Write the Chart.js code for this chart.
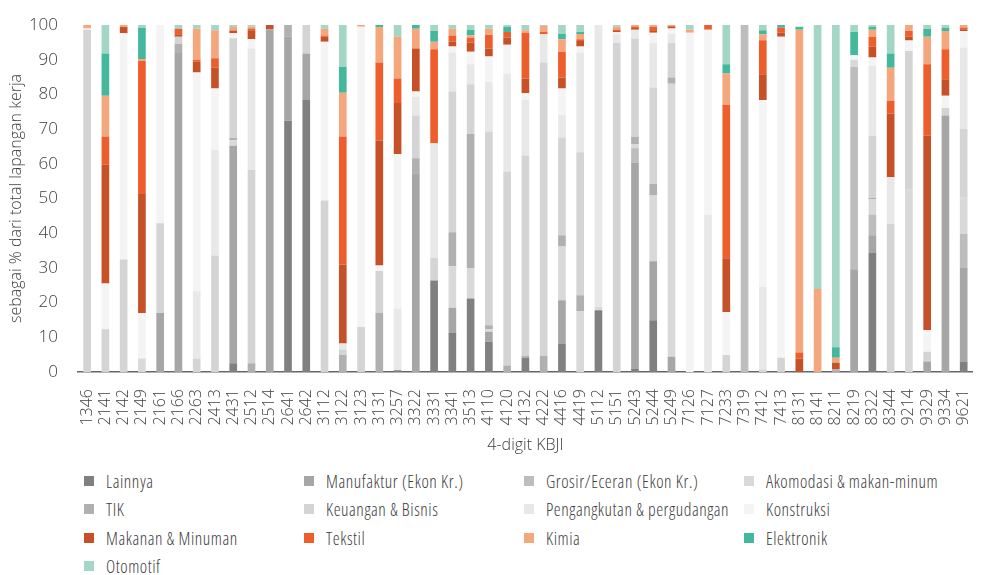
<!DOCTYPE html>
<html>
<head>
<meta charset="utf-8">
<script src="https://cdn.jsdelivr.net/npm/chart.js@4.4.1/dist/chart.umd.min.js"></script>
<style>
  html, body { margin: 0; padding: 0; background: #fff; overflow: hidden; }
  #wrap { position: relative; width: 1000px; height: 458px; }
  #legend {
    position: absolute; left: 84px; top: 467px;
    display: grid; grid-template-columns: repeat(4, 220px);
  }
  .item {
    display: flex; align-items: center; height: 28.3px;
    font-family: 'Open Sans', sans-serif; font-weight: 300; font-size: 17.5px;
    font-stretch: condensed; letter-spacing: 0.55px; color: #404040; white-space: nowrap;
  }
  .box { width: 10px; height: 10px; margin-right: 12px; flex: none; }
</style>
</head>
<body>
<div id="wrap"><canvas id="barChart" width="1000" height="458"></canvas></div>
<div id="legend"></div>
<script>
// 4-digit KBJI codes
var kbji = ['1346','2141','2142','2149','2161','2166','2263','2413','2431','2512',
            '2514','2641','2642','3112','3122','3123','3131','3257','3322','3331',
            '3341','3513','4110','4120','4132','4222','4416','4419','5112','5151',
            '5243','5244','5249','7126','7127','7233','7319','7412','7413','8131',
            '8141','8211','8219','8322','8344','9214','9329','9334','9621'];

// share of jobs per sector (%), one array per sector, same order as kbji
var lainnya      = [0,0,0,0,0,0,0,0,2.5,0, 0,72.4,78.4,0,0,0,0,0.5,0,26.4, 11.4,21.2,8.7,0,4.1,0,8.2,0,17.8,0, 1,14.9,0,0,0,0,0,0,0,0, 0,0,0,34.3,0,0,0,0,3];
var manufaktur   = [0,0,0,0,17,91.9,0,0,62.7,0, 98.8,24.2,13.4,0,0,0,0,0,57.3,0, 7.1,0,2.9,0,0,0,12.5,0,0,0, 59.4,17,4.4,0,0,0,0,0,0,0, 0,0,29.6,5.1,0,0,3,73.9,27];
var grosir       = [0,0,0,0,0,0,0,0,0,0, 0,0,0,0,0,0,0,0,0,0, 0,0,0,0,0,0,0,0,0,0, 4.1,0,0,0,0,0,100,0,0,0, 0,0,58.3,6,0,0,0,0,9.8];
var akomodasi    = [0,0,0,3.9,0,0,0,0,1.6,0, 0,0,0,0,0,0,0,0,0,0, 12,8.6,0.7,0,0,0,15.5,17.6,1,0, 1.2,19,78.7,0,0,0,0,0.8,0,0, 0,0,2.1,4.3,0,52.5,0,0,10.4];
var tik          = [0,0,0,0,0,2.7,0,0,0.6,2.5, 0,3.4,0,0,4.9,0,17,0,4.3,0, 9.8,38.8,1.2,1.9,0.6,4.7,3.2,4.5,0,0, 2.1,3.3,1.8,0,0,0,0,0,0,0, 0,0.8,0,0.5,0,0,0,0,0];
var keuangan     = [98.6,12.3,32.4,0,25.9,2,3.9,33.6,28.8,55.8, 0,0,8.2,49.4,1.6,13,12.1,0,12.3,6.5, 40.5,14.3,55.8,55.9,57.7,84.5,28.2,41.2,0,94.9, 28.3,27.8,10,0,0,4.9,0,0,4.1,0, 0,0,0,17.9,42.7,40,2.8,2.2,19.8];
var pengangkutan = [0,0,0,0,0,0,19.4,30.4,0,34.9, 0,0,0,0,1.7,0,0,17.8,5.4,33, 11.2,5.8,14.3,28.2,16,8.1,6.5,28.7,81.2,2.4, 2.5,12.9,2.6,0,45.3,0,0,23.7,0,0, 0,0,0,20.1,13.4,0,0,0,23.5];
var konstruksi   = [0.4,13.2,65.2,13.1,57.1,0,63,17.7,1.4,2.8, 0,0,0,45.8,0,86.5,1.6,44.5,1.5,0, 1.8,3.6,7.3,8.3,1.9,0,7.6,1.8,0,0.6, 0,2.9,1.5,97.8,53.3,12.4,0,53.9,92.5,0, 0,0,1.3,2.4,0,3,6.3,3.5,4.8];
var makanan      = [0,34.2,1.8,34.3,0,0.7,3.1,6,0.8,2.5, 1.2,0,0,1.4,22.8,0,36,14.7,12.4,0, 1.4,2.6,2.3,2.1,4.3,0,3.2,1.6,0,0.4, 0.5,0.5,0.5,0,0,15.5,0,7.4,1.2,3.9, 0,1.9,0,3.1,18.4,1.1,56,4.8,0.5];
var tekstil      = [0,8.2,0,38.4,0,1.6,0.6,2.7,0,0.5, 0,0,0,0.4,36.9,0,22.5,7.1,0,27.1, 1.8,1.4,3.9,1.6,13.2,0.7,7.4,0.5,0,0.4, 0.5,1.2,0.3,0,1.4,44.2,0,9.8,1.5,1.7, 0,0,0,2.9,3.7,1.7,20.6,8.6,0.5];
var kimia        = [1,11.7,0.6,0.5,0,0,9,8.1,1,0.5, 0,0,0,1.9,12.6,0.5,10.2,12,5.7,2.2, 2,0.7,1.9,0,0.7,1.7,3.6,1.5,0,0.8, 0.4,0.5,0.2,0.8,0,9,0,1.7,0,93, 23.9,1.4,0,2,9.5,1.7,7.9,5.3,0.7];
var elektronik   = [0,12.2,0,9,0,0,0,0,0,0, 0,0,0,0,7.4,0,0.6,0,1.1,3.1, 0,1.6,0,1.4,0,0,1.6,0.6,0,0, 0,0,0,0,0,2.7,0,1.2,0.7,0.9, 0,3,6.7,0.8,4.1,0,2.3,0.9,0];
var otomotif     = [0,8.2,0,0.8,0,1.1,1,1.5,0.6,0.5, 0,0,0,1.1,12.1,0,0,3.4,0,1.7, 1,1.4,1,0.6,1.5,0.3,2.5,2,0,0.5, 0,0,0,1.4,0,11.3,0,1.5,0,0, 76.1,92.9,2,0.6,8.2,0,1.1,0.8,0];

var yTicks = [0,10,20,30,40,50,60,70,80,90,100];

// series names in stacking/legend order, with their colours
var seriesNames = ['Lainnya','Manufaktur (Ekon Kr.)','Grosir/Eceran (Ekon Kr.)','Akomodasi & makan-minum',
                   'TIK','Keuangan & Bisnis','Pengangkutan & pergudangan','Konstruksi',
                   'Makanan & Minuman','Tekstil','Kimia','Elektronik','Otomotif'];
var seriesData = [lainnya, manufaktur, grosir, akomodasi, tik, keuangan, pengangkutan, konstruksi,
                  makanan, tekstil, kimia, elektronik, otomotif];
var seriesColors = ['#808080','#a6a6a6','#bdbdbd','#d9d9d9','#b0b0b0','#d4d4d4','#e8e8e8','#f4f4f4',
                    '#c65127','#ee5e2c','#f4a67c','#44b89c','#a4d6c5'];

var textColor = '#404040';
var fontFamily = "'Open Sans', sans-serif";

var datasets = seriesNames.map(function(name, i) {
  return {
    label: name,
    data: seriesData[i],
    backgroundColor: seriesColors[i],
    borderWidth: 0,
    barPercentage: 0.42,
    categoryPercentage: 1
  };
});

var ctx = document.getElementById('barChart').getContext('2d');
var chartInstance = new Chart(ctx, {
  type: 'bar',
  data: { labels: kbji, datasets: datasets },
  options: {
    responsive: false,
    animation: false,
    layout: { padding: { top: 25, right: 11, left: 0, bottom: 0 } },
    plugins: { legend: { display: false }, tooltip: { enabled: false } },
    scales: {
      x: {
        stacked: true,
        grid: { display: false, drawTicks: false },
        border: { display: true, color: '#666666', width: 1.5 },
        ticks: {
          autoSkip: false, minRotation: 90, maxRotation: 90, padding: 17,
          color: textColor,
          font: { family: fontFamily, size: 16, weight: 300, style: 'condensed' }
        },
        title: {
          display: true, text: '4-digit KBJI', color: textColor,
          padding: { top: 15, bottom: 3 },
          font: { family: fontFamily, size: 16, weight: 300, style: 'condensed' }
        },
        afterFit: function(scale) { scale.height = 86; }
      },
      y: {
        stacked: true,
        min: 0, max: 100,
        grid: { display: false, drawTicks: false },
        border: { display: false },
        afterBuildTicks: function(scale) {
          scale.ticks = yTicks.map(function(v) { return { value: v }; });
        },
        ticks: {
          padding: 20, color: textColor,
          font: { family: fontFamily, size: 17, weight: 300, style: 'semi-condensed' }
        },
        title: {
          display: true, text: 'sebagai % dari total lapangan kerja', color: textColor,
          padding: { top: 7, bottom: 0 },
          font: { family: fontFamily, size: 16, weight: 300, style: 'semi-condensed' }
        },
        afterFit: function(scale) {
          scale.width = 78;
          scale.paddingTop = 0;
          scale.paddingBottom = 0;
        }
      }
    }
  }
});

// legend in 4 fixed columns, built from the series lists
var legendEl = document.getElementById('legend');
seriesNames.forEach(function(name, i) {
  var item = document.createElement('div');
  item.className = 'item';
  var box = document.createElement('span');
  box.className = 'box';
  box.style.background = seriesColors[i];
  var label = document.createElement('span');
  label.textContent = name;
  item.appendChild(box);
  item.appendChild(label);
  legendEl.appendChild(item);
});
</script>
</body>
</html>
